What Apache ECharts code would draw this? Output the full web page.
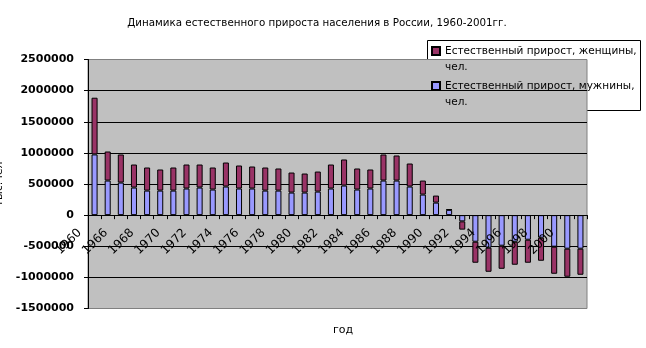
<!DOCTYPE html>
<html><head><meta charset="utf-8">
<script src="https://cdn.jsdelivr.net/npm/echarts@6/dist/echarts.min.js"></script>
<style>html,body{margin:0;padding:0;background:#fff}#c{width:646px;height:348px}</style>
</head><body><div id="c"></div>
<script>
const years = ['1960','1965','1966','1967','1968','1969','1970','1971','1972','1973','1974','1975','1976','1977','1978','1979','1980','1981','1982','1983','1984','1985','1986','1987','1988','1989','1990','1991','1992','1993','1994','1995','1996','1997','1998','1999','2000','2001'];
const male = [975000,555000,523000,443000,394000,394000,394000,427000,443000,411000,459000,427000,427000,394000,394000,362000,362000,378000,427000,475000,411000,427000,555000,555000,459000,330000,201000,85000,-100000,-427000,-523000,-491000,-427000,-395000,-362000,-507000,-539000,-539000];
const female = [911000,467000,451000,370000,371000,339000,371000,386000,370000,354000,386000,370000,354000,371000,355000,322000,306000,322000,386000,419000,338000,306000,419000,403000,370000,225000,113000,8000,-133000,-338000,-387000,-371000,-370000,-370000,-371000,-435000,-451000,-419000];
const yTicks = [-1500000,-1000000,-500000,0,500000,1000000,1500000,2000000,2500000];
const nameF = 'Естественный прирост, женщины, чел.';
const nameM = 'Естественный прирост, мужнины, чел.';
const titleText = 'Динамика естественного прироста населения в России, 1960-2001гг.';

const FONT = 'DejaVu Sans';
const gridTop = 59.5, gridH = 249;
const zeroOffset = gridH * (0 - yTicks[0]) / (yTicks[yTicks.length-1] - yTicks[0]);
const chart = echarts.init(document.getElementById('c'), null, {renderer:'canvas'});
chart.setOption({
  animation:false,
  backgroundColor:'#fff',
  title:[
    {text:titleText, left:312, textAlign:'center', top:13, textStyle:{fontFamily:FONT, fontSize:10.3, fontWeight:'normal', color:'#000'}},
    {text:'год', left:338, textAlign:'center', top:320, textStyle:{fontFamily:FONT, fontSize:11, fontWeight:'normal', color:'#000'}}
  ],
  graphic:[{type:'rect', left:427, top:40, shape:{width:213, height:70}, style:{fill:'#fff', stroke:'#000', lineWidth:1}, z:-1}],
  legend:{
    orient:'vertical', left:426, top:22, itemGap:-13,
    data:[nameF, nameM],
    icon:'rect', itemWidth:8, itemHeight:8,
    formatter: n => '\n' + n.replace(', чел.', ',\nчел.'),
    textStyle:{fontFamily:FONT, fontSize:10.5, color:'#000', lineHeight:16}
  },
  grid:{left:88, right:59, top:gridTop, height:gridH, containLabel:false, outerBoundsMode:'none', show:true, backgroundColor:'#c0c0c0', borderColor:'#808080', borderWidth:1},
  xAxis:{
    type:'category', data:years, position:'bottom', offset:-zeroOffset, z:5,
    axisLine:{onZero:false, lineStyle:{color:'#000', width:1}},
    axisTick:{show:true, interval:0, length:4, lineStyle:{color:'#000'}},
    axisLabel:{interval:1, rotate:45, fontFamily:FONT, fontSize:12, color:'#000', margin:1, padding:[0,21,0,0]},
    splitLine:{show:false}
  },
  yAxis:{
    type:'value', min:yTicks[0], max:yTicks[yTicks.length-1], interval:500000,
    name:'тыс.чел', nameLocation:'middle', nameRotate:90, nameGap:66,
    nameTextStyle:{fontFamily:FONT, fontSize:11, color:'#000'},
    axisLine:{show:true, lineStyle:{color:'#000'}},
    axisTick:{show:true, length:4, lineStyle:{color:'#000'}},
    axisLabel:{formatter:v=>String(v), fontFamily:FONT, fontSize:11, fontWeight:'bold', color:'#000', margin:14},
    splitLine:{show:true, lineStyle:{color:['#808080','#000','#000','#000','#000','#000','#000','#000','#808080'], width:1}}
  },
  series:[
    {name:nameM, type:'bar', stack:'t', data:male, barWidth:'46%', itemStyle:{color:'#9999ff', borderColor:'#000', borderWidth:1}},
    {name:nameF, type:'bar', stack:'t', data:female, barWidth:'46%', itemStyle:{color:'#993366', borderColor:'#000', borderWidth:1}}
  ]
});
</script></body></html>
